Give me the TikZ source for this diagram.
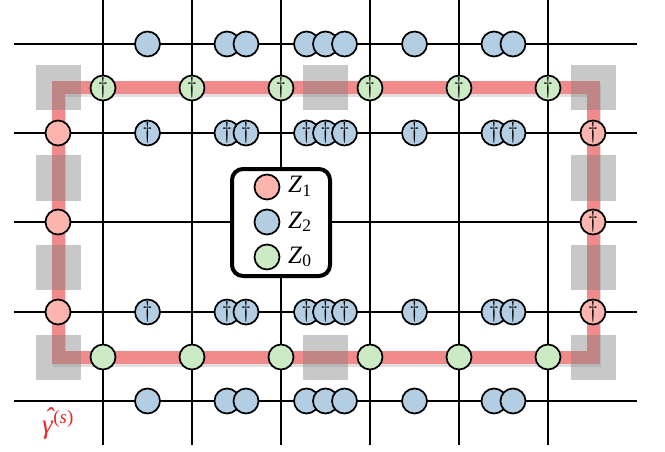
\documentclass[tikz,border=0pt]{standalone}
\usepackage{fontspec}
\setmainfont{Liberation Serif}
\newfontfamily\lmfont{Latin Modern Roman}
\usetikzlibrary{shadows}
\definecolor{pzred}{RGB}{251,180,174}
\definecolor{pzblue}{RGB}{179,205,227}
\definecolor{pzgreen}{RGB}{204,235,197}
\definecolor{pathred}{RGB}{241,139,139}
\definecolor{labred}{RGB}{232,40,40}
\begin{document}
\begin{tikzpicture}[x=1pt,y=-1pt,
  gridline/.style={line width=2.6pt,black},
  ball/.style={circle,draw=black,line width=1.7pt,minimum size=25pt,inner sep=0pt},
  dag/.style={font=\lmfont\fontsize{23}{23}\selectfont},
  zred/.style={ball,fill=pzred},
  zblue/.style={ball,fill=pzblue},
  zgreen/.style={ball,fill=pzgreen},
  graybox/.style={fill={rgb,255:red,128;green,128;blue,128},fill opacity=0.43,minimum size=45pt,inner sep=0pt},
  redpath/.style={line width=13pt,pathred,line join=miter,
    preaction={draw=black,opacity=0.12,line width=13pt,transform canvas={shift={(1.5pt,-3pt)}}}},
  legendbox/.style={draw=black,line width=4pt,rounded corners=11pt,fill=white,minimum width=98pt,minimum height=107pt,inner sep=0pt,
    drop shadow={opacity=0.25,shadow xshift=1pt,shadow yshift=-2pt}},
  leglabel/.style={anchor=base west,font=\fontsize{25}{25}\selectfont,inner sep=0pt}
]
\useasboundingbox (0,0) rectangle (665,452);
% grid
\foreach \x [count=\i] in {103,192,281,370,459,548}{
  \coordinate (vt\i) at (\x,0);
  \coordinate (vb\i) at (\x,445);
  \draw[gridline] (vt\i) -- (vb\i);
}
\foreach \y [count=\j] in {44,133,222,312,401}{
  \coordinate (hl\j) at (14,\y);
  \coordinate (hr\j) at (637,\y);
  \draw[gridline] (hl\j) -- (hr\j);
}
% red path
\coordinate (c1) at (58,88);
\coordinate (c2) at (593,88);
\coordinate (c3) at (593,357);
\coordinate (c4) at (58,357);
\draw[redpath] (c1) -- (c2) -- (c3) -- (c4) -- cycle;
% gray squares
\foreach \p [count=\k] in {(58,88),(58,178),(58,267),(58,357),(593,88),(593,178),(593,267),(593,357),(325,88),(325,357)}{
  \node[graybox] (g\k) at \p {};
}
% blue circles
\foreach \y/\r/\t in {44/a/,133/b/\textdagger,312/c/\textdagger,401/d/}{
  \node[zblue,dag] (\r1) at (147.5,\y) {\t};
  \node[zblue,dag] (\r2) at (227,\y) {\t};
  \node[zblue,dag] (\r3) at (246,\y) {\t};
  \node[zblue,dag] (\r4) at (306.5,\y) {\t};
  \node[zblue,dag] (\r5) at (325.5,\y) {\t};
  \node[zblue,dag] (\r6) at (344.5,\y) {\t};
  \node[zblue,dag] (\r7) at (414.5,\y) {\t};
  \node[zblue,dag] (\r8) at (494,\y) {\t};
  \node[zblue,dag] (\r9) at (513,\y) {\t};
}
% green circles
\foreach \x [count=\i] in {103,192,281,370,459,548}{
  \node[zgreen,dag] (gt\i) at (\x,88) {\textdagger};
  \node[zgreen] (gb\i) at (\x,357) {};
}
% red circles
\foreach \y [count=\j] in {133,222,312}{
  \node[zred] (rl\j) at (58,\y) {};
  \node[zred,dag] (rr\j) at (593,\y) {\textdagger};
}
% legend
\node[legendbox] (leg) at (281,222.5) {};
\node[zred] (l1) at (267,187) {};
\node[zblue] (l2) at (267,222) {};
\node[zgreen] (l3) at (267,257) {};
\node[leglabel] (t1) at (288,193) {\textit{Z}\textsubscript{1}};
\node[leglabel] (t2) at (288,228) {\textit{Z}\textsubscript{2}};
\node[leglabel] (t3) at (288,263) {\textit{Z}\textsubscript{0}};
% gamma label
\node[text=labred,font=\fontsize{27}{27}\selectfont,anchor=base west,inner sep=0pt] (gam) at (42,433)
  {\textit{\makebox[0pt][l]{\hspace{0.09em}\raisebox{0.24em}{ˆ}}γ}\textsuperscript{(\textit{s})}};
\end{tikzpicture}
\end{document}
